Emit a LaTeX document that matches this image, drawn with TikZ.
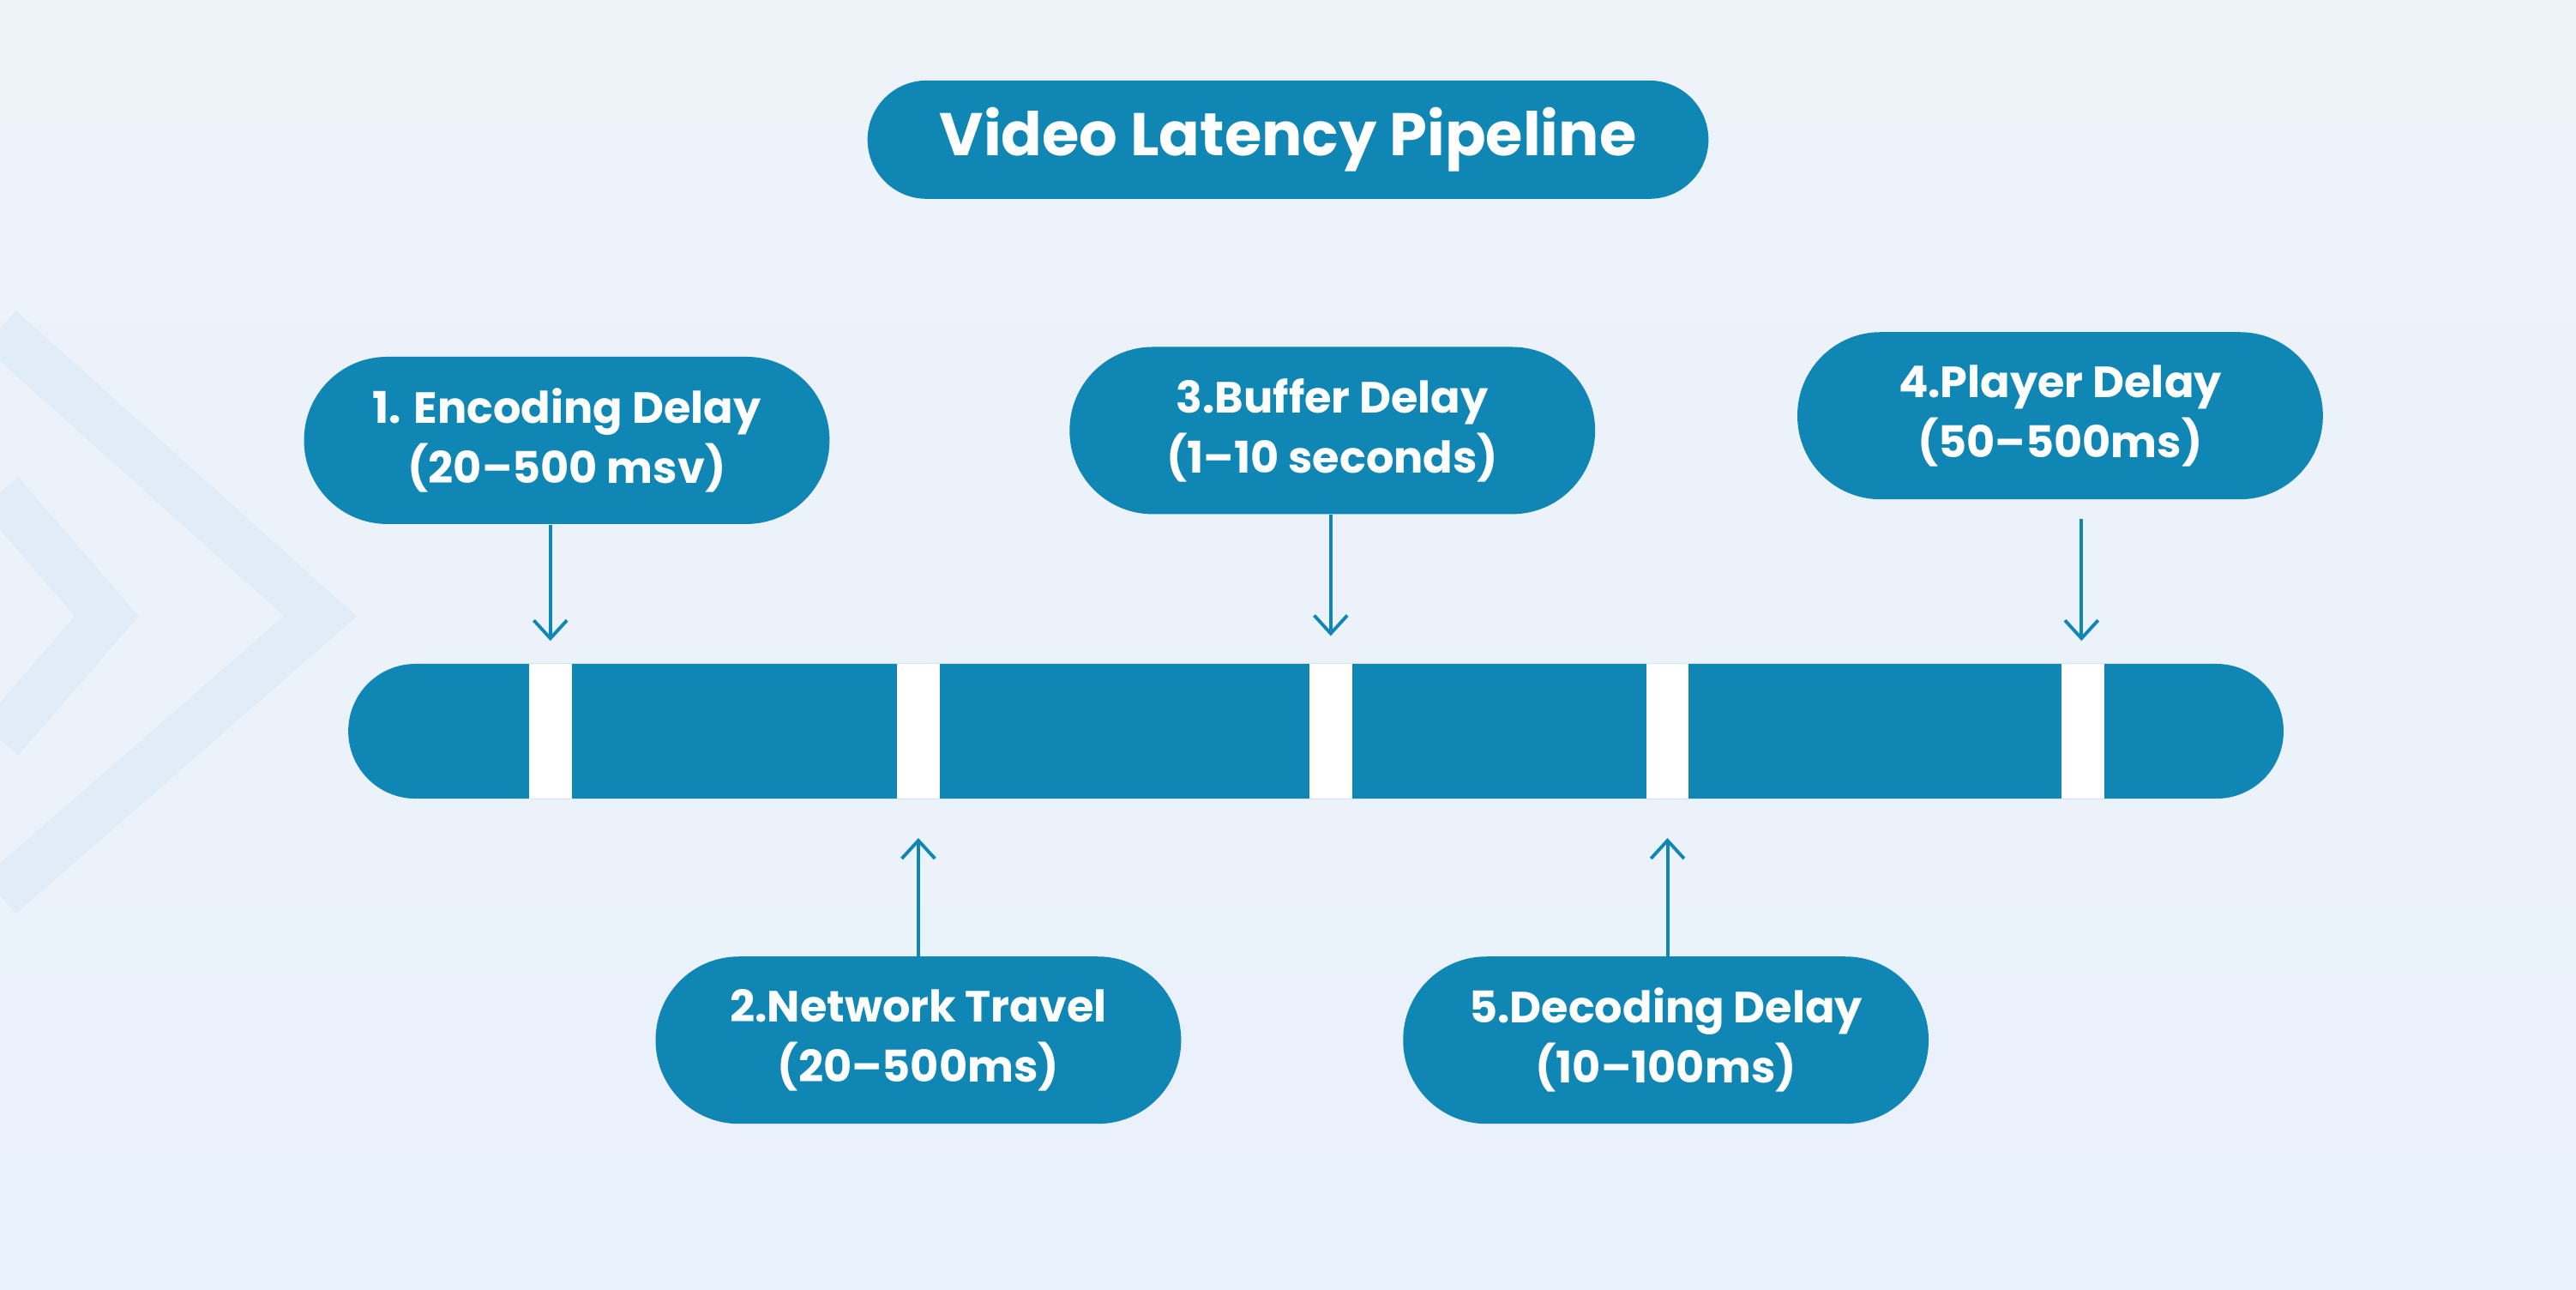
\documentclass[tikz,border=0pt]{standalone}
\usepackage{fontspec}
\setmainfont{Poppins}
\usetikzlibrary{arrows.meta,positioning}
\definecolor{pipeblue}{RGB}{16,134,180}
\definecolor{bgtop}{RGB}{238,243,250}
\definecolor{bgbot}{RGB}{233,241,250}
\definecolor{chev}{RGB}{224,236,247}
\tikzset{
  pill/.style={fill=pipeblue, text=white, minimum width=6.13cm, minimum height=1.95cm,
    rounded corners=0.97cm, align=center, inner sep=0pt, font=\fontsize{14.5}{20}\selectfont\bfseries},
  titlepill/.style={fill=pipeblue, text=white, minimum width=9.81cm, minimum height=1.38cm,
    rounded corners=0.69cm, inner sep=0pt, font=\fontsize{20}{24}\selectfont\bfseries},
  gap/.style={fill=white},
  stageArrow/.style={-{Straight Barb[length=6pt,width=11pt]}, pipeblue, line width=1.1pt},
  chevron/.style={draw=chev, line width=16pt}
}
\begin{document}
\begin{tikzpicture}[x=0.01916cm, y=-0.01916cm]
  \useasboundingbox (0,0) rectangle (1568,785);
  \shade[top color=bgtop, bottom color=bgbot] (0,0) rectangle (1568,785);
  % faint chevrons at the left edge
  \draw[chevron] (0,200) -- (195,375) -- (0,545);
  \draw[chevron] (0,300) -- (65,375) -- (0,450);

  \node[titlepill] (title) at (784,85) {Video Latency Pipeline};

  % the pipeline bar and its joints
  \fill[pipeblue, rounded corners=0.785cm] (212,404) rectangle (1390,486);
  \foreach \xa in {322,546,797,1002,1255}
    \fill[gap] (\xa,404) rectangle ++(26,82);

  \node[pill] (enc) at (345,268) {1. Encoding Delay\\(20–500 msv)};
  \node[pill] (buf) at (811,262) {3.Buffer Delay\\(1–10 seconds)};
  \node[pill] (play) at (1254,253) {4.Player Delay\\(50–500ms)};
  \node[pill] (net) at (559,633) {2.Network Travel\\(20–500ms)};
  \node[pill] (dec) at (1014,633) {5.Decoding Delay\\(10–100ms)};

  \coordinate (encIn) at (335,390);
  \coordinate (bufIn) at (810,387);
  \coordinate (playOut) at (1267,316);
  \coordinate (playIn) at (1267,390);
  \coordinate (netIn) at (559,510);
  \coordinate (decIn) at (1015,510);

  \draw[stageArrow] (enc.south -| encIn) -- (encIn);
  \draw[stageArrow] (buf.south -| bufIn) -- (bufIn);
  \draw[stageArrow] (playOut) -- (playIn);
  \draw[stageArrow] (net.north) -- (netIn);
  \draw[stageArrow] (dec.north -| decIn) -- (decIn);
\end{tikzpicture}
\end{document}
